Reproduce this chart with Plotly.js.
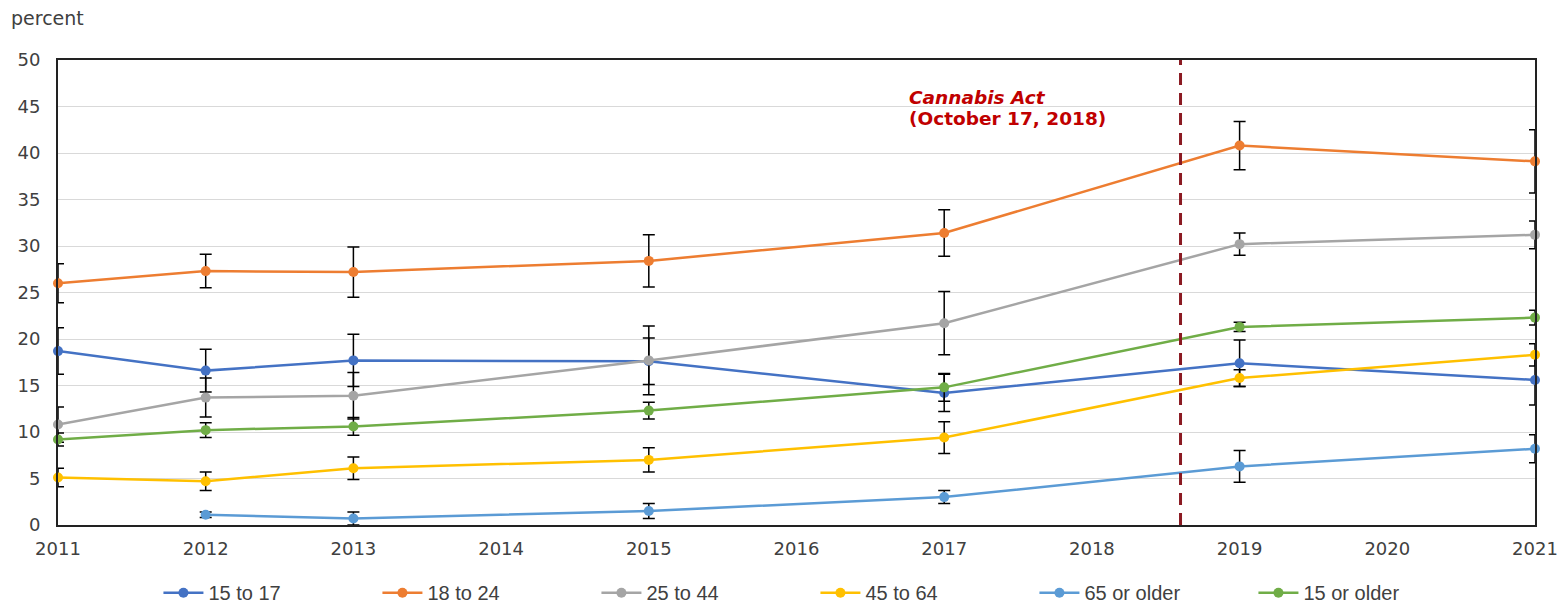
<!DOCTYPE html>
<html>
<head>
<meta charset="utf-8">
<script src="https://cdn.plot.ly/plotly-3.0.1.min.js"></script>
<style>html,body{margin:0;padding:0;background:#fff;}#chart{width:1560px;height:606px;}</style>
</head>
<body>
<div id="chart"></div>
<script>
// ---- data ----
const years = [2011, 2012, 2013, 2015, 2017, 2019, 2021];
const seriesNames = ["15 to 17", "18 to 24", "25 to 44", "45 to 64", "65 or older", "15 or older"];
const age15to17 = [18.7, 16.6, 17.7, 17.6, 14.2, 17.4, 15.6];
const err15to17 = [2.5, 2.3, 2.8, 2.5, 2.0, 2.5, 2.7];
const age18to24 = [26.0, 27.3, 27.2, 28.4, 31.4, 40.8, 39.1];
const err18to24 = [2.1, 1.8, 2.7, 2.8, 2.5, 2.6, 3.4];
const age25to44 = [10.8, 13.7, 13.9, 17.7, 21.7, 30.2, 31.2];
const err25to44 = [1.9, 2.1, 2.5, 3.7, 3.4, 1.2, 1.5];
const age45to64 = [5.1, 4.7, 6.1, 7.0, 9.4, 15.8, 18.3];
const err45to64 = [1.0, 1.0, 1.2, 1.3, 1.7, 0.9, 1.2];
const age65plus = [null, 1.1, 0.7, 1.5, 3.0, 6.3, 8.2];
const err65plus = [0, 0.3, 0.7, 0.8, 0.7, 1.7, 1.5];
const age15plus = [9.2, 10.2, 10.6, 12.3, 14.8, 21.3, 22.3];
const err15plus = [0.7, 0.8, 0.95, 0.9, 1.5, 0.5, 0.8];
const xTicks = [2011, 2012, 2013, 2014, 2015, 2016, 2017, 2018, 2019, 2020, 2021];
const yTicks = [0, 5, 10, 15, 20, 25, 30, 35, 40, 45, 50];
const cannabisActX = 2018.6;
const cannabisLabel = ["Cannabis Act", "(October 17, 2018)"];

const values = [age15to17, age18to24, age25to44, age45to64, age65plus, age15plus];
const errors = [err15to17, err18to24, err25to44, err45to64, err65plus, err15plus];
const colors = ["#4472C4", "#ED7D31", "#A5A5A5", "#FFC000", "#5B9BD5", "#70AD47"];

const traces = values.map((v, i) => ({
  type: "scatter",
  mode: "lines+markers",
  name: seriesNames[i],
  x: years,
  y: v,
  connectgaps: false,
  cliponaxis: false,
  line: {color: colors[i], width: 2.5},
  marker: {color: colors[i], size: 10, symbol: "circle"},
  error_y: {type: "data", array: errors[i], visible: true, color: "#000000", thickness: 1.5, width: 6}
}));

const layout = {
  width: 1560, height: 606,
  paper_bgcolor: "#ffffff", plot_bgcolor: "#ffffff",
  margin: {l: 58, r: 25, t: 60, b: 81},
  font: {family: "DejaVu Sans, Verdana, sans-serif", color: "#404040", size: 18},
  showlegend: true,
  legend: {
    orientation: "h", x: 0.068, xanchor: "left", xref: "paper",
    y: 0.022, yanchor: "middle", yref: "container",
    font: {family: "Liberation Sans, Arial, sans-serif", size: 20, color: "#404040"},
    entrywidth: 164, itemwidth: 40, traceorder: "normal", bgcolor: "rgba(0,0,0,0)"
  },
  xaxis: {
    range: [2011, 2021], tickmode: "array", tickvals: xTicks, ticktext: xTicks.map(String),
    showgrid: false, zeroline: false, showline: true, mirror: true, linecolor: "#222222", linewidth: 2,
    ticks: "", ticklabelstandoff: 6, tickfont: {size: 18, color: "#404040"}
  },
  yaxis: {
    range: [0, 50], tickmode: "array", tickvals: yTicks, ticktext: yTicks.map(String),
    showgrid: true, gridcolor: "#D9D9D9", gridwidth: 1, zeroline: false,
    showline: true, mirror: true, linecolor: "#222222", linewidth: 2,
    ticks: "", ticklabelstandoff: 12, tickfont: {size: 18, color: "#404040"}
  },
  shapes: [
    {
      type: "rect", xref: "x", yref: "y", x0: 2016.64, x1: 2018.33, y0: 43.0, y1: 47.2,
      fillcolor: "#ffffff", line: {width: 0}, layer: "below"
    },
    {
      type: "line", xref: "x", yref: "paper", x0: cannabisActX, x1: cannabisActX, y0: 0, y1: 1,
      line: {color: "#8B1A22", width: 3, dash: "12px,8px"}
    }
  ],
  annotations: [
    {
      xref: "x", yref: "y", x: 2016.75, y: 46.0, xanchor: "left", yanchor: "middle", align: "left",
      text: "<b><i>" + cannabisLabel[0] + "</i></b>", showarrow: false,
      font: {family: "DejaVu Sans, Verdana, sans-serif", size: 18.5, color: "#C00000"}
    },
    {
      xref: "x", yref: "y", x: 2016.75, y: 43.75, xanchor: "left", yanchor: "middle", align: "left",
      text: "<b>" + cannabisLabel[1] + "</b>", showarrow: false,
      font: {family: "DejaVu Sans, Verdana, sans-serif", size: 18.5, color: "#C00000"}
    },
    {
      xref: "paper", yref: "paper", x: -0.033, y: 1.0, xanchor: "left", yanchor: "bottom",
      yshift: 29, text: "percent", showarrow: false,
      font: {family: "DejaVu Sans, Verdana, sans-serif", size: 19, color: "#404040"}
    }
  ]
};

Plotly.newPlot("chart", traces, layout, {displayModeBar: false, staticPlot: true});
</script>
</body>
</html>
